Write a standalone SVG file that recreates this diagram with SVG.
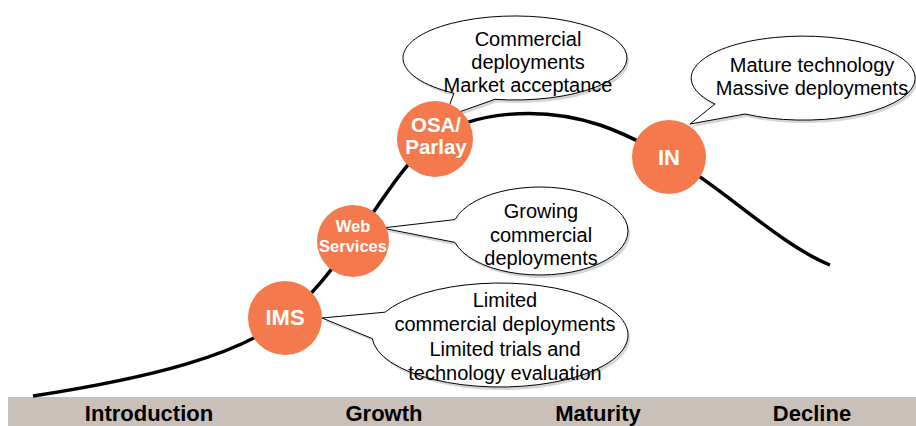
<svg xmlns="http://www.w3.org/2000/svg" width="916" height="426" viewBox="0 0 916 426">
<style>
.bub{fill:#fff;stroke:#000;stroke-width:1}
.sh{fill:#888;opacity:0.35}
.bt{font-family:"Liberation Sans",Arial,sans-serif;font-size:20px;fill:#000;text-anchor:middle}
.node{fill:#F47A4E}
.nt{font-family:"Liberation Sans",Arial,sans-serif;font-weight:bold;fill:#fff;text-anchor:middle}
.ph{font-family:"Liberation Sans",Arial,sans-serif;font-weight:bold;font-size:22px;fill:#000;text-anchor:middle}
</style>
<rect width="916" height="426" fill="#fff"/>
<rect x="8" y="397" width="908" height="29" fill="#C9C1B9"/>
<g id="phases">
<text class="ph" x="149" y="421">Introduction</text>
<text class="ph" x="384" y="421">Growth</text>
<text class="ph" x="598" y="421">Maturity</text>
<text class="ph" x="812" y="421">Decline</text>
</g>
<g id="connectors">
<path d="M33 396 C150 378 240 355 285 318 C315 293 335 265 353 241 C380 205 405 160 435 139 C470 112 540 105 600 125 C630 135 650 148 669 157 C720 185 780 245 830 265" fill="none" stroke="#000" stroke-width="3.5"/>
</g>
<g id="callout-osa">
<path class="sh" transform="translate(2,3)" d="M454 93.2 L445 117 L495 99.3 A112 42 0 1 0 454 93.2 Z"/>
<path class="bub" d="M454 93.2 L445 117 L495 99.3 A112 42 0 1 0 454 93.2 Z"/>
<text class="bt" x="528" y="46">Commercial</text>
<text class="bt" x="528" y="69">deployments</text>
<text class="bt" x="528" y="92">Market acceptance</text>
</g>
<g id="callout-in">
<path class="sh" transform="translate(2,3)" d="M715 104 L690 124 L745 114 A112 42 0 1 0 715 104 Z"/>
<path class="bub" d="M715 104 L690 124 L745 114 A112 42 0 1 0 715 104 Z"/>
<text class="bt" x="812" y="72">Mature technology</text>
<text class="bt" x="812" y="95">Massive deployments</text>
</g>
<g id="callout-web">
<path class="sh" transform="translate(2,3)" d="M455 219.6 L382 228 L455 242.4 A88 44 0 1 0 455 219.6 Z"/>
<path class="bub" d="M455 219.6 L382 228 L455 242.4 A88 44 0 1 0 455 219.6 Z"/>
<text class="bt" x="541" y="218">Growing</text>
<text class="bt" x="541" y="242">commercial</text>
<text class="bt" x="541" y="265">deployments</text>
</g>
<g id="callout-ims">
<path class="sh" transform="translate(2,3)" d="M385 312.2 L322 318 L372.3 338.6 A128 52 0 1 0 385 312.2 Z"/>
<path class="bub" d="M385 312.2 L322 318 L372.3 338.6 A128 52 0 1 0 385 312.2 Z"/>
<text class="bt" x="505" y="307">Limited</text>
<text class="bt" x="505" y="331">commercial deployments</text>
<text class="bt" x="505" y="356">Limited trials and</text>
<text class="bt" x="505" y="380">technology evaluation</text>
</g>
<g id="node-ims">
<circle class="node" cx="285" cy="318" r="37"/>
<text class="nt" x="285" y="325" font-size="22">IMS</text>
</g>
<g id="node-web">
<circle class="node" cx="353" cy="241" r="36"/>
<text class="nt" x="353" y="232" font-size="16.5">Web</text>
<text class="nt" x="353" y="252" font-size="16.5">Services</text>
</g>
<g id="node-osa">
<circle class="node" cx="435" cy="139" r="38"/>
<text class="nt" x="436" y="132" font-size="20.5">OSA/</text>
<text class="nt" x="436" y="154" font-size="20.5">Parlay</text>
</g>
<g id="node-in">
<circle class="node" cx="669" cy="157" r="37"/>
<text class="nt" x="669" y="165" font-size="22">IN</text>
</g>
</svg>
